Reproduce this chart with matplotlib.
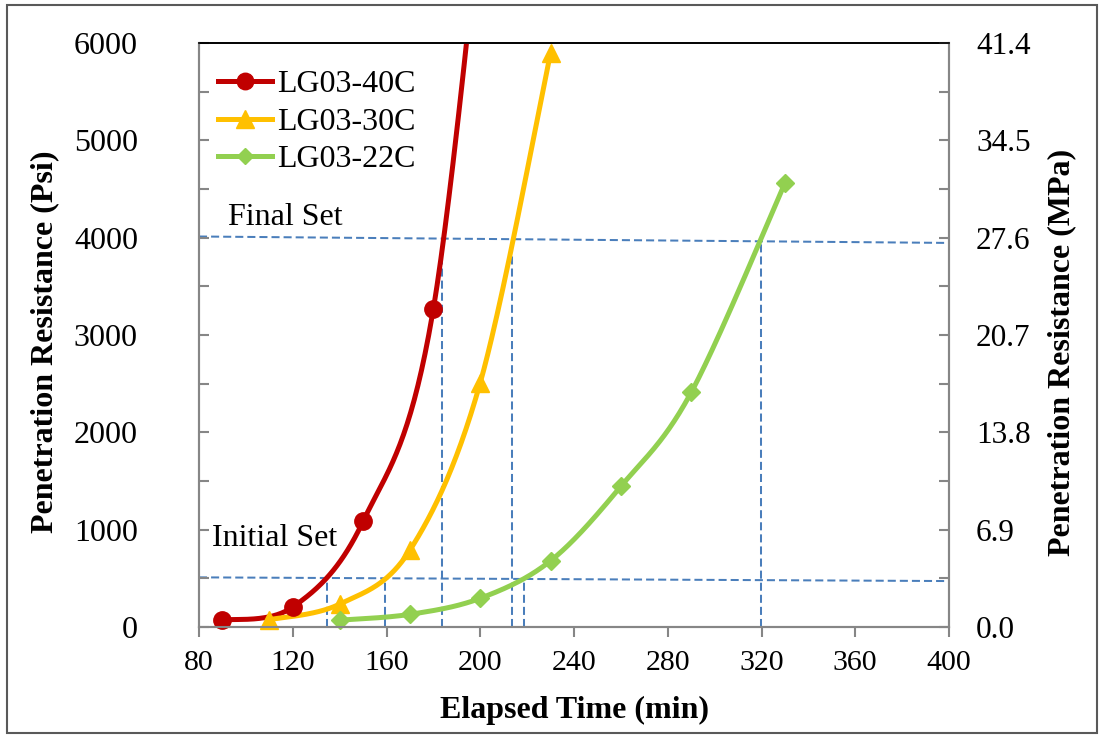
import numpy as np
import matplotlib
matplotlib.use("Agg")
import matplotlib.pyplot as plt
from matplotlib.patches import Rectangle
from matplotlib.ticker import MultipleLocator, FormatStrFormatter

plt.rcParams['font.family'] = ['Liberation Serif', 'DejaVu Serif']

# ---- data ----
t40 = [90, 120, 150, 180, 210]
p40 = [70, 205, 1085, 3270, 9700]
t30 = [110, 140, 170, 200, 230]
p30 = [75, 235, 790, 2510, 5900]
t22 = [140, 170, 200, 230, 260, 290, 330]
p22 = [70, 130, 295, 680, 1445, 2410, 4560]

labels = ["LG03-40C", "LG03-30C", "LG03-22C"]
colors = ["#C00000", "#FFC000", "#92D050"]
markers = ["o", "^", "D"]

# set-time guide lines
final_line_t = [80, 400]
final_line_p = [4012, 3946]
initial_line_t = [80, 400]
initial_line_p = [510, 472]
final_times = [183.6, 213.5, 319.6]
initial_times = [134.5, 159.4, 218.8]

xticks = [80, 120, 160, 200, 240, 280, 320, 360, 400]
yticks_psi = [0, 1000, 2000, 3000, 4000, 5000, 6000]
psi_to_mpa = 0.0069


def excel_smooth(xs, ys, n=60):
    P = np.column_stack([xs, ys]).astype(float)
    out = [P[0]]
    m = len(P)
    for i in range(m - 1):
        p0 = P[i - 1] if i > 0 else P[i]
        p1 = P[i]
        p2 = P[i + 1]
        p3 = P[i + 2] if i + 2 < m else P[i + 1]
        c1 = p1 + (p2 - p0) / 6.0
        c2 = p2 - (p3 - p1) / 6.0
        s = np.linspace(0, 1, n)[1:, None]
        Bz = ((1 - s) ** 3) * p1 + 3 * s * (1 - s) ** 2 * c1 + 3 * s ** 2 * (1 - s) * c2 + s ** 3 * p2
        out.extend(Bz)
    out = np.array(out)
    return out[:, 0], out[:, 1]


W, H = 1101, 736
fig = plt.figure(figsize=(W / 100, H / 100), dpi=100)
L, R, T, B = 199, 949, 43, 627
ax = fig.add_axes([L / W, 1 - B / H, (R - L) / W, (B - T) / H])

dash_col = "#4A7EBB"
dash_kw = dict(color=dash_col, lw=1.45, ls=(0, (4, 2)), zorder=1)
ax.plot(final_line_t, final_line_p, **dash_kw)
ax.plot(initial_line_t, initial_line_p, **dash_kw)


def interp_line(tt, lt, lp):
    return lp[0] + (lp[1] - lp[0]) * (tt - lt[0]) / (lt[1] - lt[0])


for tt in final_times:
    ax.plot([tt, tt], [0, interp_line(tt, final_line_t, final_line_p)], **dash_kw)
for tt in initial_times:
    ax.plot([tt, tt], [0, interp_line(tt, initial_line_t, initial_line_p)], **dash_kw)

msizes = [12.5, 13, 9]
for tx, py, c, mk, lab, ms in zip([t40, t30, t22], [p40, p30, p22], colors, markers, labels, msizes):
    sx, sy = excel_smooth(tx, py)
    ax.plot(sx, sy, color=c, lw=3.6, zorder=3, solid_capstyle='round')
    vis = [(a, b) for a, b in zip(tx, py) if b <= 6000]
    ax.plot([v[0] for v in vis], [v[1] for v in vis], ls='none', marker=mk, ms=ms,
            color=c, zorder=4, clip_on=False)
    ax.plot([], [], color=c, lw=3.6, marker=mk, ms=ms * 0.95, label=lab)

ax.set_xlim(80, 400)
ax.set_ylim(0, 6000)

gray = "#868686"
for sp in ['left', 'bottom', 'right']:
    ax.spines[sp].set_color(gray)
    ax.spines[sp].set_linewidth(1.5)
ax.spines['top'].set_color('black')
ax.spines['top'].set_linewidth(1.2)

ax.set_xticks(xticks)
ax.set_yticks(yticks_psi)
ax.yaxis.set_minor_locator(MultipleLocator(500))
ax.tick_params(axis='x', direction='out', length=7.5, width=1.5, color=gray,
               labelsize=21.5, pad=9)
ax.tick_params(axis='y', which='both', direction='in', length=7.5, width=1.5, color=gray,
               labelsize=23, pad=44)

ax2 = ax.twinx()
ax2.set_ylim(0, 6000 * psi_to_mpa)
ax2.set_yticks([v * psi_to_mpa for v in yticks_psi])
ax2.yaxis.set_major_formatter(FormatStrFormatter('%.1f'))
ax2.yaxis.set_minor_locator(MultipleLocator(500 * psi_to_mpa))
ax2.tick_params(axis='y', which='both', direction='in', length=7.5, width=1.5, color=gray,
                labelsize=22.5, pad=19.5)
for sp in ['left', 'bottom', 'right']:
    ax2.spines[sp].set_color(gray)
    ax2.spines[sp].set_linewidth(1.5)
ax2.spines['top'].set_color('black')
ax2.spines['top'].set_linewidth(1.2)

ax.text(92.4, 4212, "Final Set", fontsize=23, va='center', ha='left', zorder=5)
ax.text(85.5, 914, "Initial Set", fontsize=23, va='center', ha='left', zorder=5)

leg = ax.legend(loc='upper left', bbox_to_anchor=((218 - L) / (R - L), (B - 70) / (B - T)),
                frameon=False, fontsize=23, borderpad=0, borderaxespad=0,
                handlelength=1.7, handletextpad=0.15, labelspacing=0.25)

fig.text(45 / W, 1 - 342 / H, "Penetration Resistance (Psi)", rotation=90, fontsize=23,
         fontweight='bold', ha='center', va='center')
fig.text(1062 / W, 1 - 352 / H, "Penetration Resistance (MPa)", rotation=90, fontsize=23,
         fontweight='bold', ha='center', va='center')
fig.text(575 / W, 1 - 710 / H, "Elapsed Time (min)", fontsize=23,
         fontweight='bold', ha='center', va='center')

fig.patches.append(Rectangle((7 / W, 3 / H), 1090 / W, 728 / H, transform=fig.transFigure,
                             fill=False, edgecolor="#595959", lw=1.5))

fig.savefig("out.png", dpi=100)
